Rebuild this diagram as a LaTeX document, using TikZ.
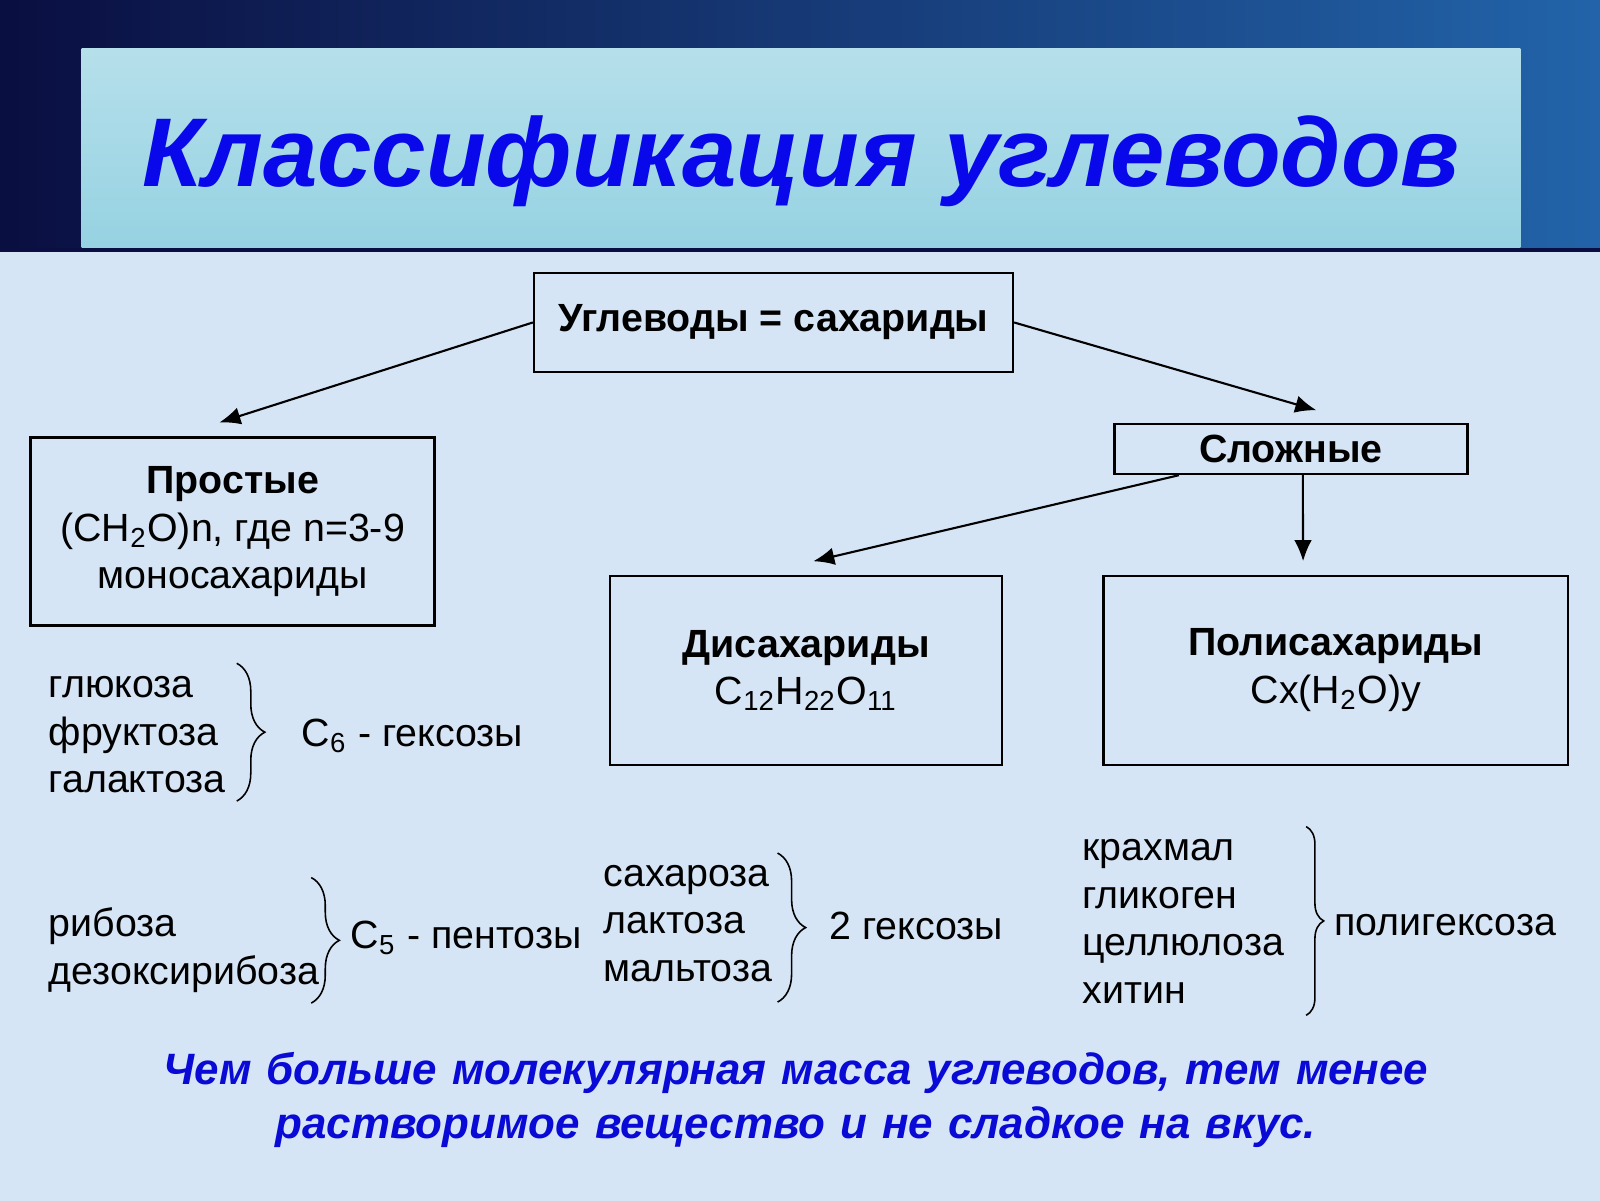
\documentclass[tikz,border=0pt]{standalone}
\usepackage{fontspec}
\setmainfont{Liberation Sans}
\usetikzlibrary{arrows.meta,decorations.pathreplacing}

\definecolor{slideBg}{RGB}{214,229,245}
\definecolor{bandLeft}{RGB}{10,14,64}
\definecolor{bandRight}{RGB}{34,100,170}
\definecolor{bannerFill}{RGB}{150,210,226}
\definecolor{titleBlue}{RGB}{8,8,235}
\definecolor{noteBlue}{RGB}{10,10,215}

\newcommand{\myBrace}[3]{
\draw[listbrace, decoration={brace, amplitude=#3}] (#1) -- (#2);
}
\newcommand{\myNoteFont}{\fontsize{12.5}{15.2}\selectfont\bfseries\itshape\spaceskip 0.34em\relax}

\tikzset{
  box/.style={draw, line width=0.7pt, align=center, inner sep=0pt},
  conn/.style={line width=0.6pt, -{Latex[length=6pt,width=5pt]}},
  itemlist/.style={anchor=west, align=left, inner sep=0pt},
  listbrace/.style={decorate, line width=0.45pt},
  titletext/.style={text=titleBlue, font=\fontsize{27.8}{30}\selectfont\bfseries\itshape},
  notetext/.style={text=noteBlue, align=center, inner sep=0pt, font=\myNoteFont}
}

\begin{document}
\begin{tikzpicture}[x=0.010204cm, y=-0.010204cm, font=\fontsize{11.2}{13.6}\selectfont]
			% page and header
			\useasboundingbox (0,0) rectangle (1568,1176);
			\fill[slideBg] (-10,-10) rectangle (1580,1190);
			\shade[left color=bandLeft, right color=bandRight] (-10,-10) rectangle (1580,245);
			\shade[top color=bannerFill!70!white, bottom color=bannerFill] (80,48) rectangle (1490,243);
			\draw[bandLeft, line width=1pt] (-10,245) -- (1580,245);
			\node[titletext] (title) at (785,158) {Классификация углеводов};

			% boxes
			\node[box, minimum width=4.79cm, minimum height=0.99cm] (root) at (758,316) {\textbf{Углеводы = сахариды}};
			\node[box, minimum width=4.04cm, minimum height=1.88cm] (simple) at (228,521) {\textbf{Простые}\\(CH\textsubscript{2}O)n, где n=3-9\\моносахариды};
			\node[box, minimum width=3.53cm, minimum height=0.50cm] (complex) at (1265,440) {\textbf{Сложные}};
			\node[box, minimum width=3.92cm, minimum height=1.89cm] (di) at (790,657) {\textbf{Дисахариды}\\C\textsubscript{12}H\textsubscript{22}O\textsubscript{11}};
			\node[box, minimum width=4.65cm, minimum height=1.89cm] (poly) at (1309,657) {\textbf{Полисахариды}\\Cx(H\textsubscript{2}O)y};

			% arrows
			\coordinate (simpleTip) at (215,414);
			\coordinate (complexTip) at (1290,402);
			\coordinate (diTip) at (797,550);
			\coordinate (polyTip) at (1277,550);
			\draw[conn] (root.west) -- (simpleTip);
			\draw[conn] (root.east) -- (complexTip);
			\draw[conn] ([xshift=-1.12cm]complex.south) -- (diTip);
			\draw[conn] ([xshift=0.12cm]complex.south) -- (polyTip);

			% lists
			\node[itemlist] (hexList) at (47,720) {глюкоза\\фруктоза\\галактоза};
			\node[itemlist] (hexName) at (295,721) {C\textsubscript{6} - гексозы};
			\node[itemlist] (pentList) at (47,931) {рибоза\\дезоксирибоза};
			\node[itemlist] (pentName) at (343,919) {C\textsubscript{5} - пентозы};
			\node[itemlist] (diList) at (591,905) {сахароза\\лактоза\\мальтоза};
			\node[itemlist] (diName) at (812,907) {2 гексозы};
			\node[itemlist] (polyList) at (1060,903) {крахмал\\гликоген\\целлюлоза\\хитин};
			\node[itemlist] (polyName) at (1307,907) {полигексоза};

			% braces
			\coordinate (hexTop) at (232,650); \coordinate (hexBot) at (232,785);
			\coordinate (pentTop) at (305,860); \coordinate (pentBot) at (305,983);
			\coordinate (diTop) at (762,836); \coordinate (diBot) at (762,982);
			\coordinate (polyTop) at (1280,810); \coordinate (polyBot) at (1280,995);
			\myBrace{hexTop}{hexBot}{8pt}
			\myBrace{pentTop}{pentBot}{8pt}
			\myBrace{diTop}{diBot}{8pt}
			\myBrace{polyTop}{polyBot}{5pt}

			% note
			\node[notetext] (note) at (780,1078) {Чем больше молекулярная масса углеводов, тем менее\\растворимое вещество и не сладкое на вкус.};
\end{tikzpicture}
\end{document}
